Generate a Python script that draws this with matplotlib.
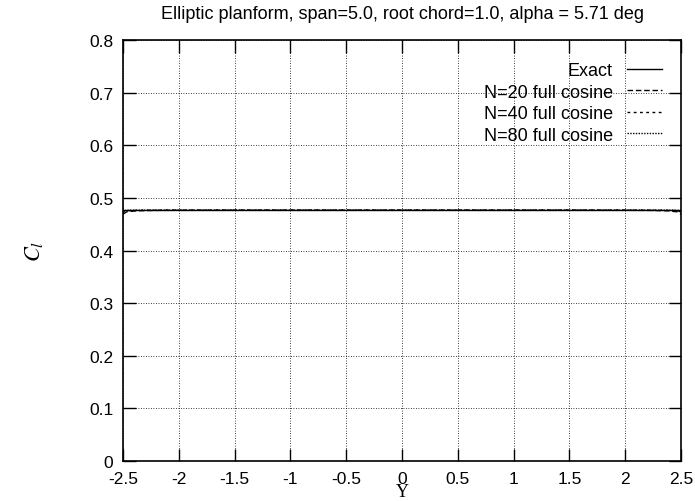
import matplotlib
matplotlib.use('Agg')
import matplotlib.pyplot as plt

plt.rcParams['font.family'] = ['Liberation Sans', 'DejaVu Sans']
plt.rcParams['mathtext.fontset'] = 'stix'

# exact elliptic loading: constant section lift
exact_y = [-2.5, 2.5]
exact_cl = [0.4767, 0.4767]

# lifting-line results on full cosine spacing
n20_y = [-2.5, -2.469, -2.378, -2.227, -2.023, -1.768, -1.469, -1.135, -0.773, -0.391, 0.0,
         0.391, 0.773, 1.135, 1.469, 1.768, 2.023, 2.227, 2.378, 2.469, 2.5]
n20_cl = [0.4690, 0.4735, 0.4755, 0.4762, 0.4765, 0.4766, 0.4767, 0.4767, 0.4767, 0.4767, 0.4767,
          0.4767, 0.4767, 0.4767, 0.4767, 0.4766, 0.4765, 0.4762, 0.4755, 0.4735, 0.4690]

n40_y = [-2.5, -2.492, -2.469, -2.431, -2.378, -2.311, -2.227, -2.0, -1.5, -1.0, 0.0,
         1.0, 1.5, 2.0, 2.227, 2.311, 2.378, 2.431, 2.469, 2.492, 2.5]
n40_cl = [0.4710, 0.4740, 0.4755, 0.4761, 0.4764, 0.4765, 0.4766, 0.4767, 0.4767, 0.4767, 0.4767,
          0.4767, 0.4767, 0.4767, 0.4766, 0.4765, 0.4764, 0.4761, 0.4755, 0.4740, 0.4710]

n80_y = [-2.5, -2.498, -2.492, -2.482, -2.469, -2.452, -2.431, -2.3, -2.0, -1.0, 0.0,
         1.0, 2.0, 2.3, 2.431, 2.452, 2.469, 2.482, 2.492, 2.498, 2.5]
n80_cl = [0.4725, 0.4748, 0.4757, 0.4761, 0.4763, 0.4765, 0.4766, 0.4767, 0.4767, 0.4767, 0.4767,
          0.4767, 0.4767, 0.4767, 0.4766, 0.4765, 0.4763, 0.4761, 0.4757, 0.4748, 0.4725]

xticks = [-2.5, -2, -1.5, -1, -0.5, 0, 0.5, 1, 1.5, 2, 2.5]
xticklabels = ['-2.5', '-2', '-1.5', '-1', '-0.5', '0', '0.5', '1', '1.5', '2', '2.5']
yticks = [0, 0.1, 0.2, 0.3, 0.4, 0.5, 0.6, 0.7, 0.8]
yticklabels = ['0', '0.1', '0.2', '0.3', '0.4', '0.5', '0.6', '0.7', '0.8']

fig = plt.figure(figsize=(6.95, 5.02), dpi=100)
ax = fig.add_axes([0.177, 0.080, 0.803, 0.838])

ax.plot(exact_y, exact_cl, color='black', lw=1.0, ls='-', label='Exact')
ax.plot(n20_y, n20_cl, color='black', lw=1.0, ls=(0, (4, 2)), label='N=20 full cosine')
ax.plot(n40_y, n40_cl, color='black', lw=1.0, ls=(0, (2, 2.5)), label='N=40 full cosine')
ax.plot(n80_y, n80_cl, color='black', lw=1.0, ls=(0, (1, 1)), label='N=80 full cosine')

ax.set_xlim(-2.5, 2.5)
ax.set_ylim(0, 0.8)
ax.set_xticks(xticks)
ax.set_xticklabels(xticklabels)
ax.set_yticks(yticks)
ax.set_yticklabels(yticklabels)
ax.tick_params(direction='in', length=9, width=1, top=True, right=True, labelsize=12.5, pad=7)
ax.grid(True, color='black', ls=(0, (1, 2)), lw=0.6)
for s in ax.spines.values():
    s.set_linewidth(1.2)

ax.set_title('Elliptic planform, span=5.0, root chord=1.0, alpha = 5.71 deg', fontsize=13, pad=16)
ax.set_xlabel('Y', family='Liberation Serif', fontsize=13)
# pin the x label to the bottom edge of the figure
ax.xaxis.label.set_va('bottom')
ax.xaxis.set_label_coords(0.5, -0.093)
ax.set_ylabel('$C_l$', fontsize=16, labelpad=32)

ax.legend(loc='upper right', frameon=False, markerfirst=False, fontsize=13,
          handlelength=1.9, handletextpad=0.8, labelspacing=0.25,
          borderaxespad=0.0, bbox_to_anchor=(0.978, 0.965))

fig.savefig('out.png', dpi=100)
